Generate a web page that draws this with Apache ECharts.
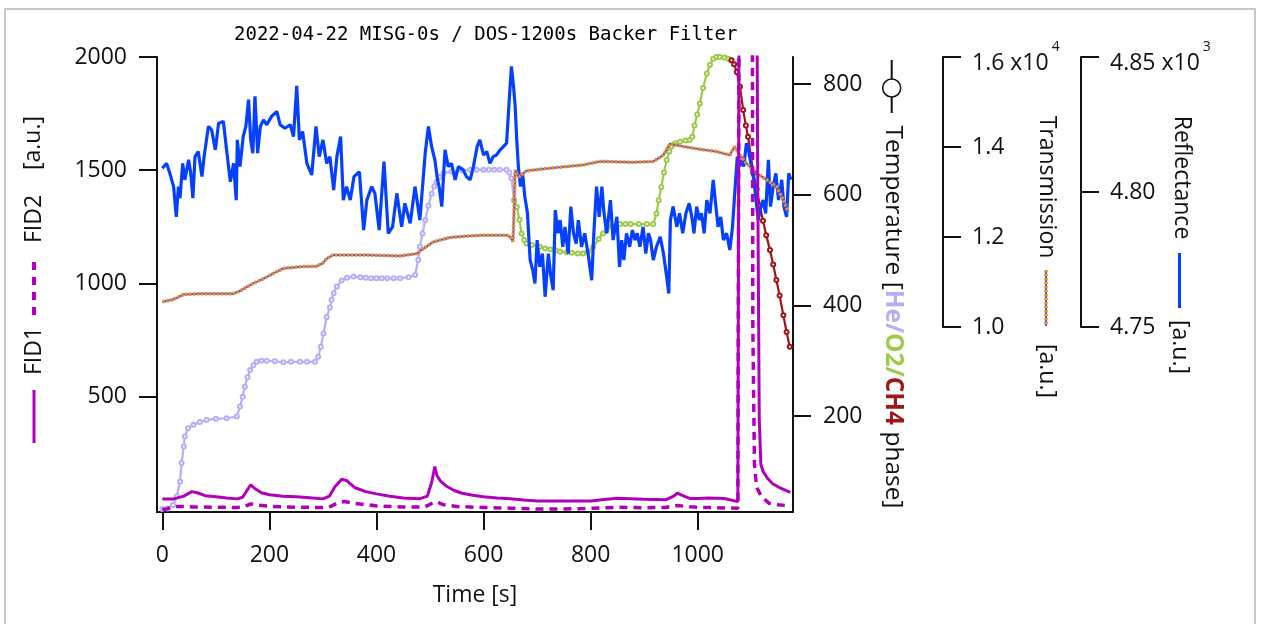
<!DOCTYPE html>
<html>
<head>
<meta charset="utf-8">
<title>2022-04-22 MISG-0s / DOS-1200s Backer Filter</title>
<script src="https://cdn.jsdelivr.net/npm/echarts@6/dist/echarts.min.js"></script>
<style>
  html, body { margin: 0; padding: 0; background: #fff; }
  #chart { width: 1263px; height: 624px; }
</style>
</head>
<body>
<div id="chart"></div>
<script>
// ticks
const timeTicks = [0, 200, 400, 600, 800, 1000];
const fidTicks = [500, 1000, 1500, 2000];
const tempTicks = [200, 400, 600, 800];
const transTicks = [1.0, 1.2, 1.4, 1.6];
const reflTicks = [4.75, 4.80, 4.85];

// temperature [C], split by gas phase  ([time s, T])
const heTemp = [[0,32],[10,33],[20,39],[27,55],[33,81],[36,115],[40,145],[42,163],[48,178],[58,184],[70,189],[83,193],
  [100,195],[120,196],[139,199],[145,217],[150,235],[154,253],[159,270],[164,283],[170,292],[176,298],[185,300],
  [195,300],[210,299],[226,297],[240,298],[257,298],[270,298],[285,298],[291,307],[296,325],[301,349],[307,379],
  [313,396],[316,410],[320,422],[326,434],[335,445],[345,450],[357,452],[370,451],[380,450],[390,449],[400,449],
  [410,449],[420,449],[432,449],[444,449],[460,451],[472,455],[478,482],[481,506],[486,530],[491,554],[497,580],
  [503,602],[508,615],[512,623],[518,632],[525,639],[540,642],[560,644],[575,645],[587,645],[600,645],[610,645],
  [620,645],[630,645],[643,645],[648,640],[652,630],[657,590]];
const o2Temp = [[657,590],[662,578],[667,555],[671,530],[676,518],[680,512],[690,509],[705,506],[715,503],[725,501],
  [735,499],[743,497],[755,496],[765,495],[776,494],[786,494],[795,497],[805,506],[815,520],[823,530],[830,536],
  [840,543],[855,547],[865,547],[875,547],[890,547],[905,547],[917,547],[923,566],[927,590],[932,614],[937,640],
  [942,663],[947,678],[951,687],[958,693],[967,696],[977,698],[985,699],[990,705],[994,725],[999,745],[1004,765],
  [1010,793],[1017,819],[1023,835],[1029,846],[1035,849],[1041,849],[1050,848],[1057,846],[1063,843]];
const ch4Temp = [[1063,843],[1068,836],[1073,822],[1079,795],[1085,753],[1090,725],[1094,705],[1099,672],[1104,639],
  [1110,610],[1116,580],[1122,553],[1128,527],[1135,500],[1141,474],[1147,446],[1153,418],[1160,382],[1166,352],
  [1172,325]];

// FID signals [a.u.] (spike runs off the top of the axis)
const fid1 = [[0,47],[20,47],[40,60],[55,80],[65,75],[80,62],[100,57],[120,52],[140,48],[150,55],[158,85],[165,110],
  [172,95],[185,75],[200,66],[225,60],[250,57],[275,53],[300,48],[312,60],[322,100],[335,135],[345,128],[360,97],
  [380,80],[400,70],[425,60],[450,52],[480,48],[495,60],[503,120],[509,191],[513,150],[520,125],[530,105],[545,85],
  [560,73],[580,64],[600,57],[625,52],[650,49],[675,43],[700,39],[750,39],[800,39],[825,45],[850,51],[875,49],
  [900,46],[940,44],[955,60],[962,73],[970,65],[985,50],[1000,50],[1020,52],[1050,50],[1075,36],[1078,36],
  [1079,4000],[1108,4000],[1112,1500],[1115,400],[1118,200],[1122,170],[1130,140],[1140,115],[1155,95],[1173,77]];
const fid2 = [[0,0],[10,5],[20,14],[40,14],[60,12],[100,11],[140,10],[155,15],[165,26],[180,20],[200,15],[250,11],
  [300,10],[315,15],[330,34],[340,36],[360,28],[400,17],[450,12],[490,12],[505,30],[512,36],[525,22],[550,14],
  [600,10],[650,7],[700,3],[750,3],[800,6],[850,11],[900,9],[940,10],[962,19],[980,14],[1000,11],[1050,8],
  [1075,7],[1078,7],[1079,4000],[1101,4000],[1103,800],[1106,200],[1110,100],[1119,58],[1133,29],[1150,22],[1173,17]];

// Transmission [x10^4 a.u.]
const transmission = [[0,1.056],[20,1.061],[39,1.072],[70,1.074],[100,1.074],[132,1.074],[145,1.080],[158,1.089],
  [170,1.097],[183,1.104],[195,1.111],[210,1.121],[226,1.130],[257,1.134],[288,1.135],[300,1.142],[307,1.152],
  [319,1.160],[381,1.160],[444,1.158],[475,1.163],[490,1.176],[506,1.189],[537,1.199],[570,1.202],[600,1.204],
  [643,1.204],[650,1.200],[655,1.190],[657,1.260],[659,1.349],[664,1.336],[668,1.334],[674,1.342],[680,1.347],
  [724,1.353],[786,1.360],[817,1.368],[880,1.366],[917,1.368],[936,1.382],[948,1.407],[973,1.401],[1004,1.395],
  [1035,1.390],[1060,1.382],[1069,1.401],[1079,1.382],[1091,1.364],[1110,1.342],[1129,1.327],[1147,1.312],
  [1160,1.282],[1169,1.256]];

// Reflectance [x10^3 a.u.]
const reflectance = [[0,4.8088],[8,4.8106],[14,4.8069],[21,4.8020],[26,4.7908],[30,4.8020],[33,4.7977],[38,4.8106],
  [42,4.8045],[49,4.8119],[53,4.8069],[57,4.7977],[61,4.8131],[67,4.8150],[74,4.8057],[78,4.8131],[86,4.8243],
  [92,4.8230],[99,4.8156],[105,4.8255],[114,4.8261],[120,4.8156],[127,4.8038],[133,4.8106],[138,4.7970],
  [140,4.8193],[145,4.8094],[151,4.8205],[156,4.8243],[161,4.8342],[165,4.8193],[169,4.8144],[173,4.8354],
  [178,4.8144],[183,4.8243],[189,4.8267],[195,4.8249],[204,4.8280],[214,4.8298],[220,4.8249],[229,4.8236],
  [239,4.8249],[245,4.8205],[251,4.8393],[256,4.8193],[262,4.8224],[270,4.8106],[279,4.8063],[287,4.8243],
  [293,4.8131],[300,4.8193],[307,4.8106],[313,4.8131],[320,4.8007],[326,4.8131],[333,4.8205],[338,4.7970],
  [344,4.8020],[351,4.7970],[358,4.8057],[368,4.8075],[376,4.7859],[382,4.7970],[391,4.8020],[397,4.7995],
  [405,4.7859],[414,4.8113],[422,4.7847],[430,4.7871],[438,4.7995],[447,4.7871],[453,4.7958],[463,4.7884],
  [472,4.8020],[481,4.7896],[491,4.8144],[497,4.8243],[503,4.8168],[509,4.8119],[514,4.8045],[517,4.8020],
  [522,4.7946],[528,4.8156],[534,4.8094],[540,4.8106],[547,4.8045],[553,4.8094],[562,4.8082],[568,4.8057],
  [575,4.8045],[581,4.8094],[588,4.8168],[593,4.8193],[600,4.8137],[606,4.8150],[612,4.8106],[618,4.8131],
  [624,4.8137],[631,4.8156],[637,4.8168],[643,4.8181],[648,4.8342],[652,4.8465],[656,4.8391],[659,4.8317],
  [662,4.8193],[665,4.8094],[669,4.8020],[673,4.8069],[677,4.7983],[682,4.7921],[687,4.7748],[692,4.7710],
  [696,4.7661],[700,4.7822],[705,4.7723],[710,4.7772],[715,4.7612],[721,4.7772],[725,4.7698],[730,4.7636],
  [734,4.7933],[739,4.7847],[743,4.7896],[748,4.7797],[752,4.7871],[758,4.7772],[763,4.7946],[768,4.7847],
  [773,4.7809],[777,4.7896],[783,4.7797],[789,4.7847],[796,4.7760],[802,4.7673],[806,4.7847],[811,4.8020],
  [816,4.7908],[821,4.8020],[825,4.7921],[830,4.7847],[837,4.7970],[842,4.7822],[849,4.7908],[854,4.7723],
  [858,4.7822],[862,4.7748],[867,4.7847],[873,4.7797],[878,4.7859],[883,4.7822],[887,4.7847],[892,4.7797],
  [898,4.7871],[903,4.7772],[908,4.7847],[912,4.7822],[917,4.7748],[923,4.7797],[930,4.7834],[936,4.7772],
  [942,4.7686],[946,4.7624],[949,4.7896],[954,4.7946],[961,4.7871],[966,4.7921],[972,4.7847],[978,4.7921],
  [984,4.7958],[989,4.7908],[993,4.7847],[998,4.7946],[1003,4.7896],[1007,4.7921],[1012,4.7847],[1017,4.7970],
  [1023,4.7921],[1029,4.8045],[1034,4.7946],[1038,4.7871],[1043,4.7908],[1048,4.7822],[1054,4.7847],
  [1060,4.7785],[1065,4.7871],[1070,4.8020],[1074,4.8131],[1078,4.8094],[1082,4.8119],[1086,4.8094],
  [1091,4.8181],[1096,4.8144],[1101,4.8082],[1105,4.8045],[1109,4.7970],[1113,4.7896],[1118,4.7946],
  [1122,4.7970],[1127,4.7921],[1132,4.8119],[1136,4.7946],[1141,4.8020],[1146,4.8069],[1151,4.7970],
  [1157,4.8045],[1161,4.7946],[1166,4.7908],[1170,4.8069],[1174,4.8045]];

const FONT = '"Open Sans", "Noto Sans", sans-serif';
const MONO = '"DejaVu Sans Mono", "Liberation Mono", monospace';
const INK = '#111';
const FID_COLOR = '#b000bb';
const HE_COLOR = '#b6aef8';
const O2_COLOR = '#9cca4a';
const CH4_COLOR = '#a01616';
const REFL_COLOR = '#0540ff';
const TRANS_ORANGE = '#f0883a';
const TRANS_BLUE = '#3a5cc8';

const chart = echarts.init(document.getElementById('chart'), null, { renderer: 'canvas' });

function plain(v) { return String(v); }

function axisStyle(ticks, extra) {
  return Object.assign({
    type: 'value',
    splitLine: { show: false },
    axisLine: { show: true, onZero: false, lineStyle: { color: INK, width: 2 } },
    axisTick: { show: true, inside: false, length: 18, lineStyle: { color: INK, width: 2 }, customValues: ticks },
    axisLabel: { show: true, color: INK, fontFamily: FONT, fontSize: 23, margin: 30, customValues: ticks, formatter: plain }
  }, extra);
}

function tempLine(data, color) {
  return {
    type: 'line', xAxisIndex: 0, yAxisIndex: 1, data: data,
    symbol: 'emptyCircle', symbolSize: 4, showSymbol: true,
    itemStyle: { color: color, borderWidth: 1 },
    lineStyle: { color: color, width: 2.2 },
    z: 2
  };
}

const supRich = {
  m: { fontSize: 23, fontFamily: FONT, color: INK, lineHeight: 26, padding: [12, 0, 0, 0] },
  s: { fontSize: 14, fontFamily: FONT, color: INK, lineHeight: 14, padding: [0, 0, 20, 3] }
};

const option = {
  backgroundColor: '#fff',
  animation: false,
  title: {
    text: '2022-04-22 MISG-0s / DOS-1200s Backer Filter',
    left: 229, top: 21,
    textStyle: { fontFamily: MONO, fontSize: 19, fontWeight: 'normal', color: '#000' }
  },
  grid: [
    { left: 157, right: 470, top: 57, bottom: 112 },
    { left: 157, right: 470, top: 57, height: 270 }
  ],
  xAxis: [
    axisStyle(timeTicks, {
      gridIndex: 0, min: -10, max: 1178,
      name: 'Time [s]', nameLocation: 'middle', nameGap: 72,
      nameTextStyle: { fontFamily: FONT, fontSize: 23, color: INK },
      axisLabel: { show: true, color: INK, fontFamily: FONT, fontSize: 23, margin: 32, customValues: timeTicks, formatter: plain }
    }),
    { type: 'value', gridIndex: 1, min: -10, max: 1178, show: false }
  ],
  yAxis: [
    axisStyle(fidTicks, { gridIndex: 0, position: 'left', min: -10, max: 2000 }),
    axisStyle(tempTicks, { gridIndex: 0, position: 'right', min: 26.5, max: 849 }),
    axisStyle(transTicks, {
      gridIndex: 1, position: 'right', offset: 150, min: 1.0, max: 1.6,
      axisLabel: {
        show: true, color: INK, fontFamily: FONT, fontSize: 23, margin: 29, customValues: transTicks,
        formatter: function (v) { return Math.abs(v - 1.6) < 1e-6 ? '{m|1.6 x10}{s|4}' : v.toFixed(1); },
        rich: supRich
      }
    }),
    axisStyle(reflTicks, {
      gridIndex: 1, position: 'right', offset: 288, min: 4.75, max: 4.85,
      axisLabel: {
        show: true, color: INK, fontFamily: FONT, fontSize: 23, margin: 29, customValues: reflTicks,
        formatter: function (v) { return Math.abs(v - 4.85) < 1e-6 ? '{m|4.85 x10}{s|3}' : v.toFixed(2); },
        rich: supRich
      }
    })
  ],
  series: [
    tempLine(heTemp, HE_COLOR),
    tempLine(o2Temp, O2_COLOR),
    tempLine(ch4Temp, CH4_COLOR),
    {
      type: 'line', xAxisIndex: 1, yAxisIndex: 3, data: reflectance, showSymbol: false,
      lineStyle: { color: REFL_COLOR, width: 3.2 }, z: 3
    },
    {
      type: 'line', xAxisIndex: 1, yAxisIndex: 2, data: transmission, showSymbol: false,
      lineStyle: { color: TRANS_BLUE, width: 2 }, z: 4
    },
    {
      type: 'line', xAxisIndex: 1, yAxisIndex: 2, data: transmission, showSymbol: false,
      lineStyle: { color: TRANS_ORANGE, width: 3.5, type: [2.5, 1.5] }, z: 4
    },
    {
      type: 'line', xAxisIndex: 0, yAxisIndex: 0, data: fid1, showSymbol: false, clip: true,
      lineStyle: { color: FID_COLOR, width: 3 }, z: 5
    },
    {
      type: 'line', xAxisIndex: 0, yAxisIndex: 0, data: fid2, showSymbol: false, clip: true,
      lineStyle: { color: FID_COLOR, width: 3.5, type: [8, 6] }, z: 5
    }
  ],
  graphic: [
    // frame
    { type: 'rect', shape: { x: 5, y: 9, width: 1250, height: 640 }, style: { fill: 'none', stroke: '#c8c8c8', lineWidth: 2 }, silent: true },
    // left axis title with legend keys
    { type: 'text', x: 33, y: 143, rotation: Math.PI / 2, style: { text: '[a.u.]', font: '23px ' + FONT, fill: INK, align: 'center', verticalAlign: 'middle' } },
    { type: 'text', x: 34, y: 219, rotation: Math.PI / 2, style: { text: 'FID2', font: '23px ' + FONT, fill: INK, align: 'center', verticalAlign: 'middle' } },
    { type: 'line', shape: { x1: 34, y1: 315, x2: 34, y2: 259 }, style: { stroke: FID_COLOR, lineWidth: 4, lineDash: [8, 7] } },
    { type: 'text', x: 34, y: 351, rotation: Math.PI / 2, style: { text: 'FID1', font: '23px ' + FONT, fill: INK, align: 'center', verticalAlign: 'middle' } },
    { type: 'line', shape: { x1: 34, y1: 443, x2: 34, y2: 390 }, style: { stroke: FID_COLOR, lineWidth: 3 } },
    // temperature title
    { type: 'line', shape: { x1: 891.7, y1: 60, x2: 891.7, y2: 113 }, style: { stroke: INK, lineWidth: 2 } },
    { type: 'circle', shape: { cx: 891.7, cy: 88, r: 9 }, style: { fill: '#fff', stroke: INK, lineWidth: 1.5 } },
    {
      type: 'text', x: 893, y: 317, rotation: -Math.PI / 2,
      style: {
        text: '{k|Temperature [}{h|He/}{o|O2/}{c|CH4}{k| phase]}',
        align: 'center', verticalAlign: 'middle',
        rich: {
          k: { fill: INK, fontSize: 24.5, fontFamily: FONT },
          h: { fill: HE_COLOR, fontSize: 24.5, fontFamily: FONT, fontWeight: 'bold' },
          o: { fill: O2_COLOR, fontSize: 24.5, fontFamily: FONT, fontWeight: 'bold' },
          c: { fill: CH4_COLOR, fontSize: 24.5, fontFamily: FONT, fontWeight: 'bold' }
        }
      }
    },
    // transmission title
    { type: 'text', x: 1046.7, y: 187, rotation: -Math.PI / 2, style: { text: 'Transmission', font: '23px ' + FONT, fill: INK, align: 'center', verticalAlign: 'middle' } },
    { type: 'line', shape: { x1: 1046, y1: 270, x2: 1046, y2: 326 }, style: { stroke: TRANS_BLUE, lineWidth: 2 } },
    { type: 'line', shape: { x1: 1046, y1: 270, x2: 1046, y2: 326 }, style: { stroke: TRANS_ORANGE, lineWidth: 3.5, lineDash: [2.5, 1.5] } },
    { type: 'text', x: 1046.7, y: 371, rotation: -Math.PI / 2, style: { text: '[a.u.]', font: '23px ' + FONT, fill: INK, align: 'center', verticalAlign: 'middle' } },
    // reflectance title
    { type: 'text', x: 1181.7, y: 177.5, rotation: -Math.PI / 2, style: { text: 'Reflectance', font: '23px ' + FONT, fill: INK, align: 'center', verticalAlign: 'middle' } },
    { type: 'line', shape: { x1: 1179.5, y1: 253, x2: 1179.5, y2: 308 }, style: { stroke: REFL_COLOR, lineWidth: 3 } },
    { type: 'text', x: 1180, y: 347, rotation: -Math.PI / 2, style: { text: '[a.u.]', font: '23px ' + FONT, fill: INK, align: 'center', verticalAlign: 'middle' } }
  ]
};

chart.setOption(option);
</script>
</body>
</html>
